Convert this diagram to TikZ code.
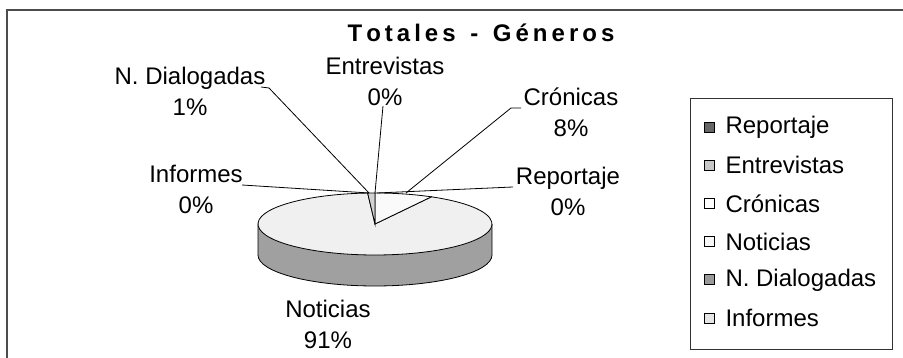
\documentclass[tikz,border=0pt]{standalone}
\usepackage{fontspec}
\setmainfont{Liberation Sans}
\usetikzlibrary{positioning}

\makeatletter
\newcommand\spreadtext[2]{\@tfor\spr@c:=#2\do{\spr@c\kern#1}}
\makeatother

\definecolor{topgray}{HTML}{F0F0F0}
\definecolor{sidegray}{HTML}{A0A0A0}
\definecolor{crogray}{HTML}{FAFAFA}
\definecolor{dialgray}{HTML}{D2D2D2}

\tikzset{
  lbl/.style={align=center, font=\fontsize{24}{31}\selectfont, inner sep=0pt},
  leader/.style={draw=black, line width=0.8pt},
  lgbox/.style={draw=black, line width=0.6pt, minimum size=10pt, inner sep=0pt},
  lgtext/.style={font=\fontsize{24}{28}\selectfont, inner sep=0pt},
}

\begin{document}
\begin{tikzpicture}[x=1pt,y=1pt]
		\useasboundingbox (0,0) rectangle (903,358);
		\draw[gray!60!black, line width=1.5pt] (7,0) -- (7,348) -- (903,348);
		\node[inner sep=0pt] (title) at (483,325) {\fontsize{24}{28}\selectfont\bfseries\spreadtext{4pt}{Totales{\ }-{\ }Géneros}};

		% pie
		\coordinate (c) at (375,134);
		\fill[sidegray] (258,134) -- (258,103) arc[start angle=180, end angle=360, x radius=117pt, y radius=31pt] -- (492,134) -- cycle;
		\draw[line width=0.8pt] (258,134) -- (258,103) arc[start angle=180, end angle=360, x radius=117pt, y radius=31pt] -- (492,134);
		\filldraw[fill=topgray, line width=0.8pt] (c) -- ++(93.6:117pt and 31pt) arc[start angle=93.6, end angle=421.2, x radius=117pt, y radius=31pt] -- cycle;
		\filldraw[fill=crogray, line width=0.8pt] (c) -- ++(61.2:117pt and 31pt) arc[start angle=61.2, end angle=90, x radius=117pt, y radius=31pt] -- cycle;
		\filldraw[fill=dialgray, line width=0.8pt] (c) -- ++(90:117pt and 31pt) arc[start angle=90, end angle=93.6, x radius=117pt, y radius=31pt] -- cycle;

		% labels
		\node[lbl] (lblEnt) at (385,276.5) {Entrevistas\\0\%};
		\node[lbl] (lblDia) at (190,267) {N.\ Dialogadas\\1\%};
		\node[lbl] (lblCro) at (571,245.5) {Crónicas\\8\%};
		\node[lbl] (lblInf) at (196,169) {Informes\\0\%};
		\node[lbl] (lblRep) at (568,166.5) {Reportaje\\0\%};
		\node[lbl] (lblNot) at (328,34) {Noticias\\91\%};

		\coordinate (tEnt) at (383,252);
		\coordinate (tDia) at (261,271);
		\coordinate (kDia) at (269,270);
		\coordinate (tCro) at (521,250);
		\coordinate (kCro) at (511,250);
		\coordinate (tInf) at (242,173);
		\coordinate (tRep) at (513,171);
		\coordinate (pEnt) at (375,165);
		\coordinate (pDia) at (369,165);
		\coordinate (pCro) at (406,165);
		\coordinate (pInf) at (369,165);
		\coordinate (pRep) at (377,165);

		\draw[leader] (tEnt) -- (pEnt);
		\draw[leader] (tDia) -- (kDia) -- (pDia);
		\draw[leader] (tCro) -- (kCro) -- (pCro);
		\draw[leader] (tInf) -- (pInf);
		\draw[leader] (tRep) -- (pRep);

		% legend
		\node[draw=black!80, line width=0.8pt, minimum width=202pt, minimum height=251pt, inner sep=0pt] (legend) at (791,134.5) {};
		\node[lgbox, fill=black!60] (sqRep) at (709,231) {};
		\node[lgbox, fill=black!22, below=27.6pt of sqRep] (sqEnt) {};
		\node[lgbox, fill=white, below=27.6pt of sqEnt] (sqCro) {};
		\node[lgbox, fill=black!3, below=27.6pt of sqCro] (sqNot) {};
		\node[lgbox, fill=black!40, below=27.6pt of sqNot] (sqDia) {};
		\node[lgbox, fill=black!10, below=27.6pt of sqDia] (sqInf) {};
		\node[lgtext, right=11pt of sqRep] (txRep) {Reportaje};
		\node[lgtext, right=11pt of sqEnt] (txEnt) {Entrevistas};
		\node[lgtext, right=11pt of sqCro] (txCro) {Crónicas};
		\node[lgtext, right=11pt of sqNot] (txNot) {Noticias};
		\node[lgtext, right=11pt of sqDia] (txDia) {N.\ Dialogadas};
		\node[lgtext, right=11pt of sqInf] (txInf) {Informes};
		\end{tikzpicture}
\end{document}
